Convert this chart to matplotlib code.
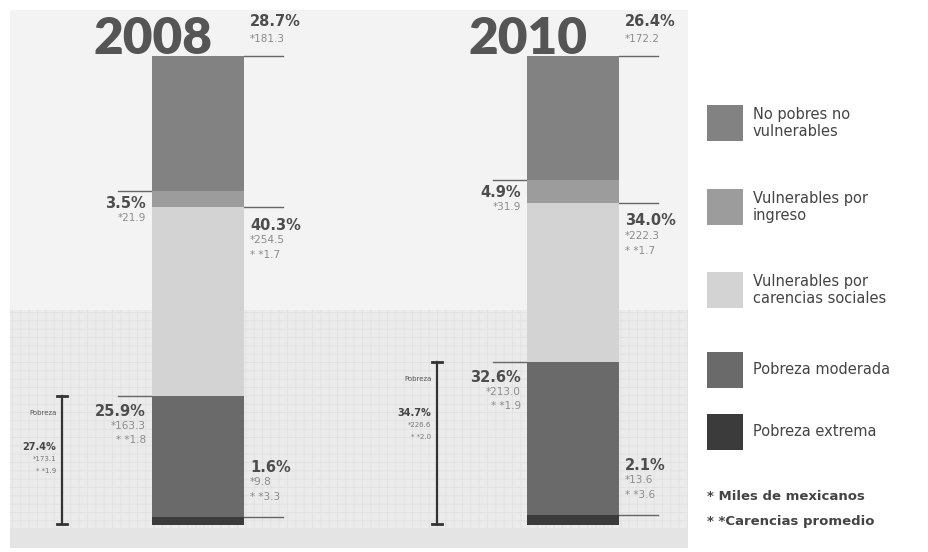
import numpy as np
import matplotlib
matplotlib.use("Agg")
import matplotlib.pyplot as plt
from matplotlib.patches import Rectangle

# ----------------------------
# Datos
# ----------------------------
years = ["2008", "2010"]
categories = ["No pobres no\nvulnerables", "Vulnerables por\ningreso",
              "Vulnerables por\ncarencias sociales", "Pobreza moderada",
              "Pobreza extrema"]
# porcentajes, de arriba hacia abajo
pct_2008 = [28.7, 3.5, 40.3, 25.9, 1.6]
pct_2010 = [26.4, 4.9, 34.0, 32.6, 2.1]
# miles de mexicanos
miles_2008 = ["181.3", "21.9", "254.5", "163.3", "9.8"]
miles_2010 = ["172.2", "31.9", "222.3", "213.0", "13.6"]
# carencias promedio (None = sin dato)
caren_2008 = [None, None, "1.7", "1.8", "3.3"]
caren_2010 = [None, None, "1.7", "1.9", "3.6"]
# pobreza total
pobreza_pct = ["27.4%", "34.7%"]
pobreza_miles = ["173.1", "226.6"]
pobreza_caren = ["1.9", "2.0"]

colors = ["#828282", "#9c9c9c", "#d3d3d3", "#6a6a6a", "#3b3b3b"]
notes = ["* Miles de mexicanos", "* *Carencias promedio"]

plt.rcParams["hatch.linewidth"] = 0.6

# ----------------------------
# Figura
# ----------------------------
fig = plt.figure(figsize=(9.29, 5.52), dpi=100)
fig.patch.set_facecolor("white")

# fondo (coordenadas en pixeles)
bg = fig.add_axes([0, 0, 1, 1], zorder=0)
bg.set_xlim(0, 929)
bg.set_ylim(552, 0)
bg.axis("off")
bg.add_patch(Rectangle((10, 10), 678, 300, color="#f3f3f3", lw=0))
bg.add_patch(Rectangle((10, 310), 678, 238, facecolor="#ebebeb",
                       edgecolor="#e1e1e1", hatch="++", lw=0))
bg.add_patch(Rectangle((10, 528), 678, 20, color="#e4e4e4", lw=0))

# barras apiladas
W_PX = 92.0
UNIT = 375.0  # pixeles entre centros de barra
ax = fig.add_axes([152 / 929, 27 / 552, 467 / 929, 469 / 552], zorder=2)
ax.set_xlim(-W_PX / 2 / UNIT, 1 + W_PX / 2 / UNIT)
ax.set_ylim(0, 100)
ax.axis("off")
ax.patch.set_alpha(0)

w = W_PX / UNIT
px = 1.0 / UNIT
series = [(pct_2008, miles_2008, caren_2008), (pct_2010, miles_2010, caren_2010)]

for i, (pct, miles, caren) in enumerate(series):
    tops = 100 - np.concatenate([[0], np.cumsum(pct)[:-1]])
    bottoms = tops - np.array(pct)
    ax.bar([i] * 5, pct, bottom=bottoms, width=w, color=colors, lw=0, zorder=3)

    right = i + w / 2
    left = i - w / 2
    dark, light = "#4d4d4d", "#8c8c8c"

    def block(x, y, pct_txt, extra, ha, offs):
        ax.annotate(pct_txt, (x, y), xytext=(0, offs[0]), textcoords="offset pixels",
                    ha=ha, va="center", fontsize=10.5, fontweight="bold",
                    color=dark, annotation_clip=False)
        for k, t in enumerate(extra):
            ax.annotate(t, (x, y), xytext=(0, offs[k + 1]), textcoords="offset pixels",
                        ha=ha, va="center", fontsize=7.5, color=light,
                        annotation_clip=False)

    def lines_for(j):
        out = ["*" + miles[j]]
        if caren[j] is not None:
            out.append("* *" + caren[j])
        return out

    # derecha: no pobres (arriba de la linea superior)
    ax.plot([right, right + 39 * px], [tops[0]] * 2, color="#666666", lw=1, clip_on=False)
    block(right + 6 * px, tops[0], f"{pct[0]}%", lines_for(0), "left", [34, 17])
    # izquierda: vulnerables por ingreso
    ax.plot([left - 34 * px, left], [tops[1]] * 2, color="#666666", lw=1, clip_on=False)
    block(left - 6 * px, tops[1], f"{pct[1]}%", lines_for(1), "right", [-13, -27])
    # derecha: carencias sociales
    ax.plot([right, right + 39 * px], [tops[2]] * 2, color="#666666", lw=1, clip_on=False)
    block(right + 6 * px, tops[2], f"{pct[2]}%", lines_for(2), "left", [-18, -33, -48])
    # izquierda: pobreza moderada
    ax.plot([left - 34 * px, left], [tops[3]] * 2, color="#666666", lw=1, clip_on=False)
    block(left - 6 * px, tops[3], f"{pct[3]}%", lines_for(3), "right", [-15, -30, -44])
    # derecha: pobreza extrema
    ax.plot([right, right + 39 * px], [tops[4]] * 2, color="#666666", lw=1, clip_on=False)
    block(right + 6 * px, tops[4], f"{pct[4]}%", lines_for(4), "left", [50, 35, 20])

    # llave de pobreza
    bx = i - 136 * px
    ax.plot([bx, bx], [tops[3], 0.3], color="#333333", lw=1.6, clip_on=False)
    for yy in (tops[3], 0.3):
        ax.plot([bx - 5 * px, bx + 5 * px], [yy, yy], color="#333333", lw=2, clip_on=False)
    ax.annotate("Pobreza", (bx - 5 * px, tops[3]), xytext=(0, -17),
                textcoords="offset pixels", ha="right", va="center", fontsize=5,
                color="#555555", annotation_clip=False)
    ax.annotate(pobreza_pct[i], (bx - 6 * px, tops[3]), xytext=(0, -51),
                textcoords="offset pixels", ha="right", va="center", fontsize=7,
                fontweight="bold", color="#444444", annotation_clip=False)
    ax.annotate("*" + pobreza_miles[i], (bx - 6 * px, tops[3]), xytext=(0, -63),
                textcoords="offset pixels", ha="right", va="center", fontsize=5,
                color="#777777", annotation_clip=False)
    ax.annotate("* *" + pobreza_caren[i], (bx - 6 * px, tops[3]), xytext=(0, -75),
                textcoords="offset pixels", ha="right", va="center", fontsize=5,
                color="#777777", annotation_clip=False)

    # año
    ax.annotate(years[i], (i - 45 * px, 100), xytext=(0, 2), textcoords="offset pixels",
                ha="center", va="baseline", fontsize=37, fontweight="heavy",
                family="Lato", color="#555555", annotation_clip=False)

# ----------------------------
# Leyenda
# ----------------------------
leg_y = [123, 207, 290, 370, 432]
for yc, lab, c in zip(leg_y, categories, colors):
    bg.add_patch(Rectangle((707, yc - 18), 36, 36, color=c, lw=0))
    bg.text(753, yc, lab, ha="left", va="center", fontsize=10.5,
            color="#444444", linespacing=1.15)
for yc, t in zip([497, 522], notes):
    bg.text(707, yc, t, ha="left", va="center", fontsize=9.5,
            fontweight="bold", color="#444444")

fig.savefig("out.png", dpi=100)
